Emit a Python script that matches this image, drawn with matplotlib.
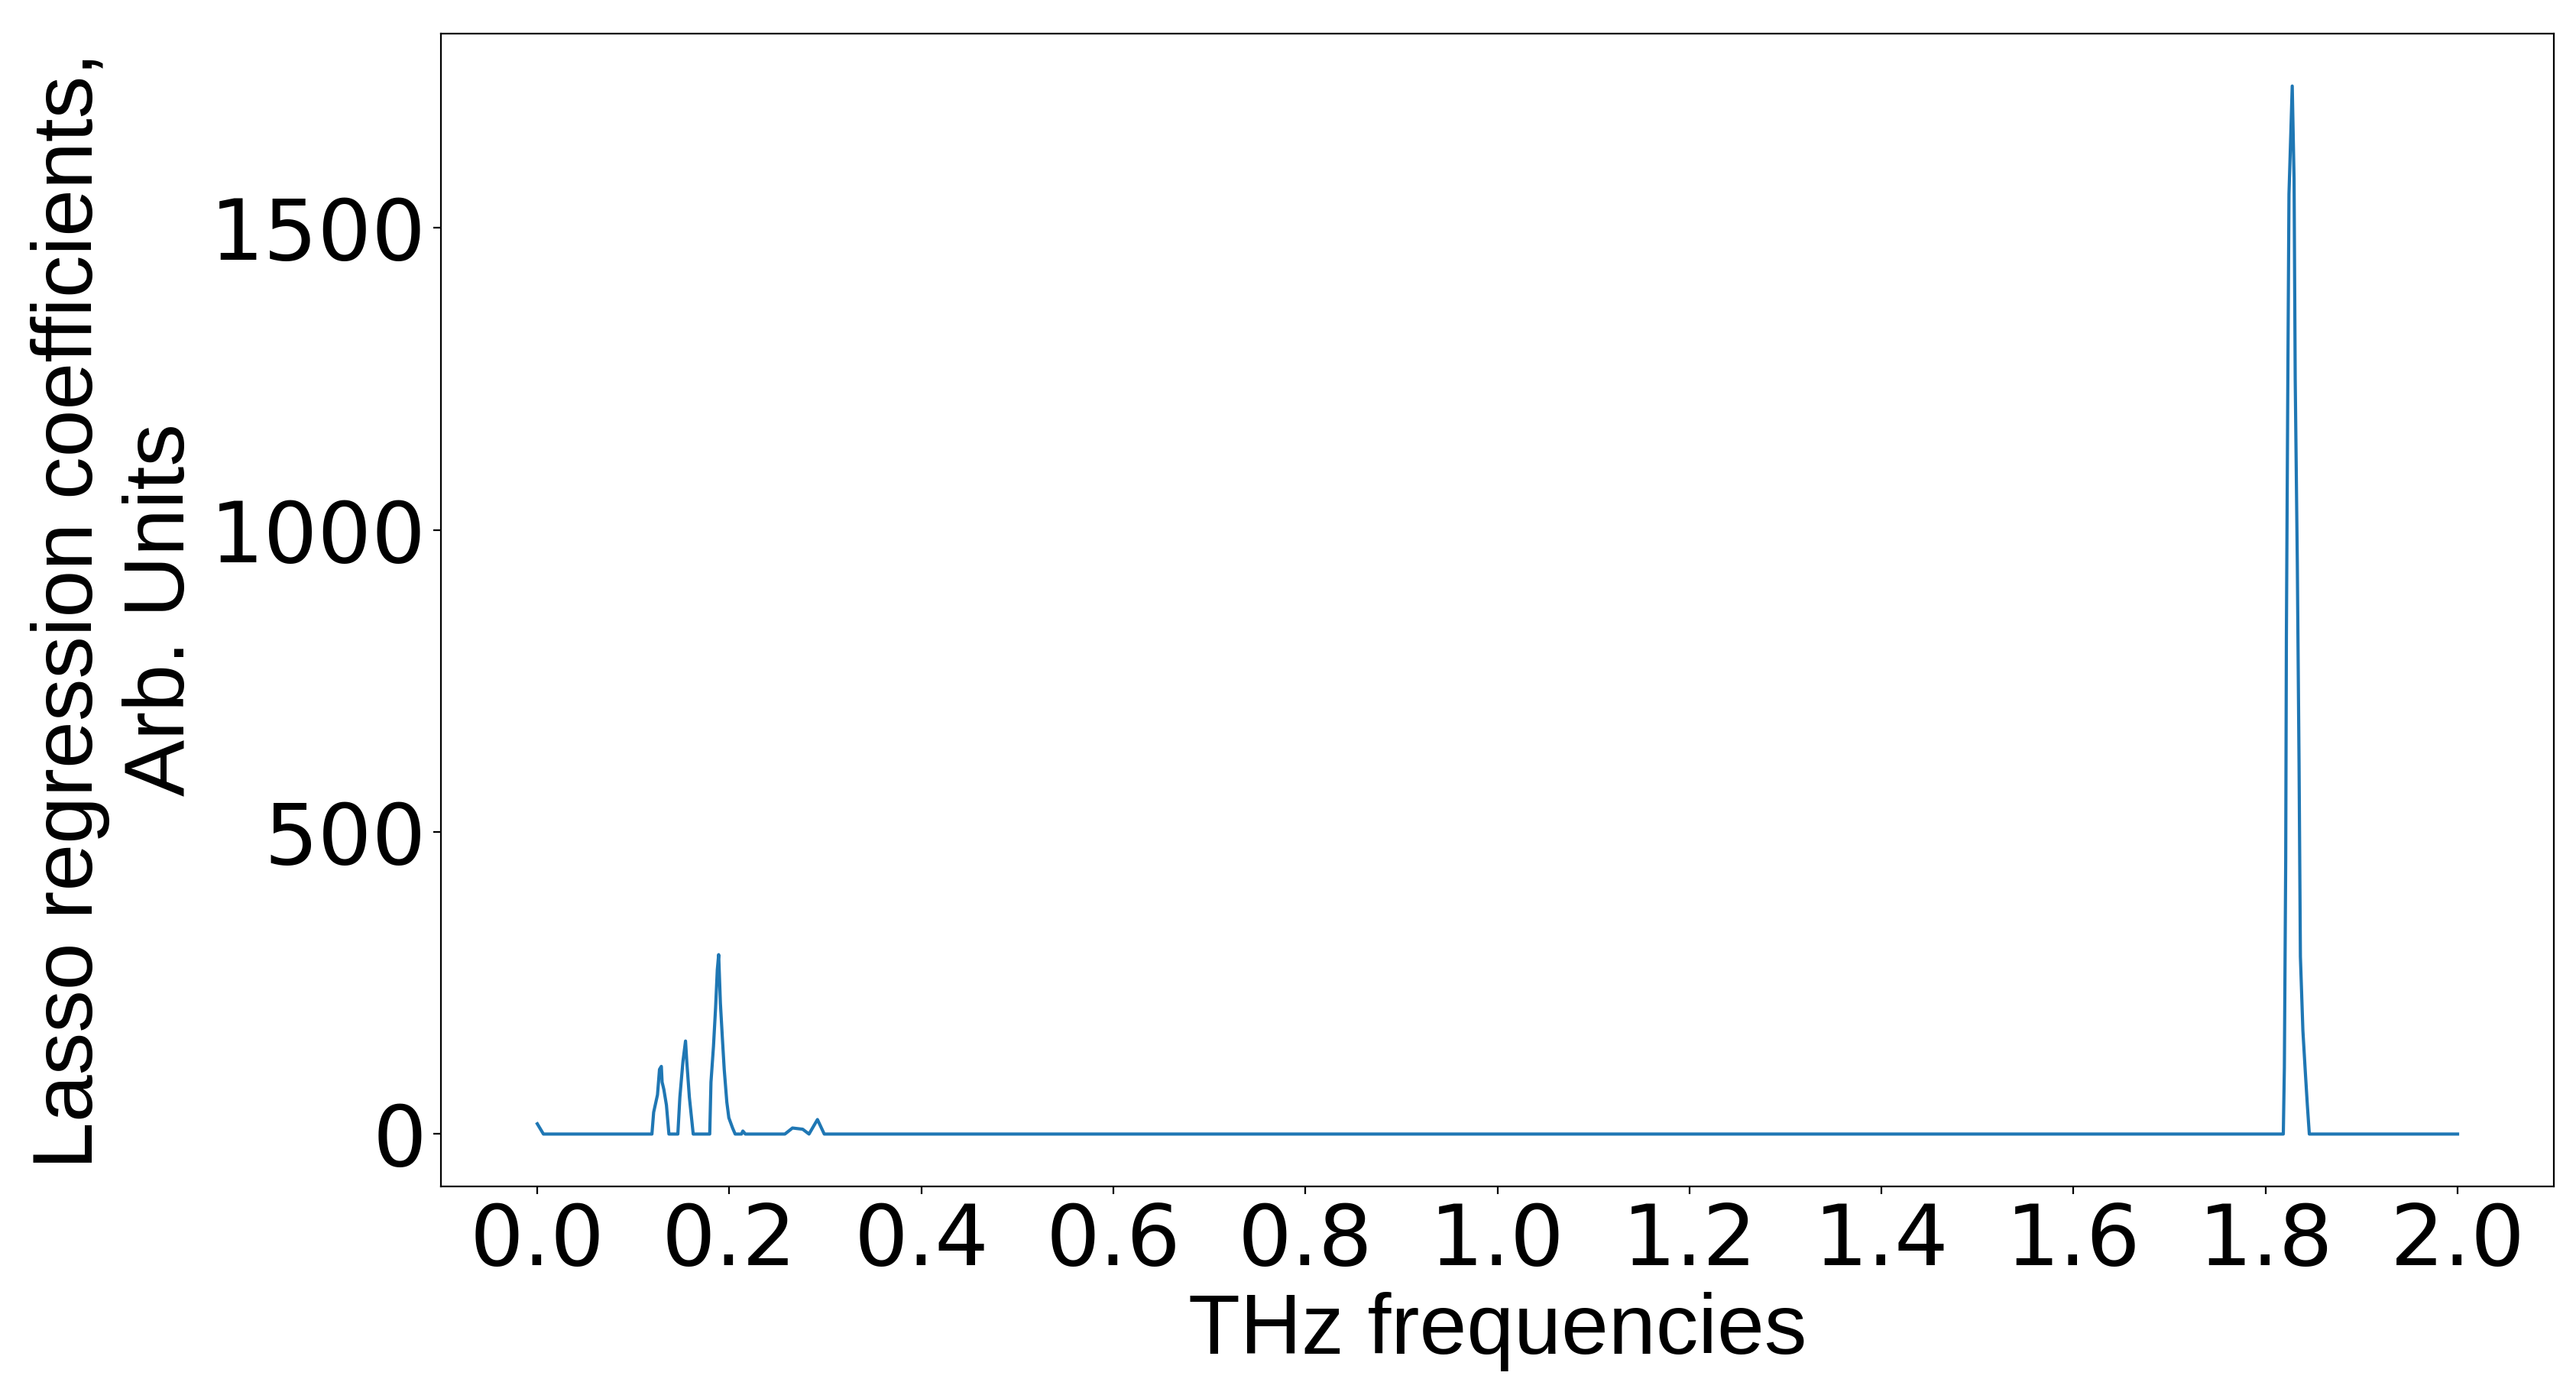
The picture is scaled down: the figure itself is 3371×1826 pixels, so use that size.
import matplotlib
matplotlib.use('Agg')
import matplotlib.pyplot as plt

# Lasso coefficients (freq in THz, coef in arb. units)
freq = [0.0, 0.0064, 0.1194, 0.1212, 0.1252, 0.1273, 0.1292, 0.1300, 0.1318,
        0.1345, 0.1371, 0.1464, 0.1485, 0.1517, 0.1544, 0.1557, 0.1584, 0.1624,
        0.1796, 0.1809, 0.1835, 0.1857, 0.1875, 0.1889, 0.1907, 0.1928, 0.1947,
        0.1974, 0.1995, 0.2034, 0.2061, 0.2127, 0.2141, 0.2167, 0.2579, 0.2658,
        0.2764, 0.2830, 0.2918, 0.2989,
        1.8185, 1.8196, 1.8210, 1.8217, 1.8230, 1.8244, 1.8278, 1.8297, 1.8309,
        1.8331, 1.8349, 1.8363, 1.8389, 1.8416, 1.8435, 1.8456, 2.0]
coef = [17, 0, 0, 36, 65, 107, 112, 86, 74,
        48, 0, 0, 61, 120, 154, 120, 61, 0,
        0, 86, 145, 209, 272, 297, 217, 158, 107,
        53, 27, 10, 0, 0, 5, 0, 0, 10,
        8, 0, 24, 0,
        0, 110, 453, 821, 1189, 1556, 1735, 1581, 1250,
        943, 613, 294, 171, 98, 49, 0, 0]

xticks = [0.0, 0.2, 0.4, 0.6, 0.8, 1.0, 1.2, 1.4, 1.6, 1.8, 2.0]
yticks = [0, 500, 1000, 1500]

LABEL_FONT = ['Liberation Sans', 'DejaVu Sans']

fig, ax = plt.subplots(figsize=(16.855, 9.13), dpi=200)
fig.subplots_adjust(left=0.1713, right=0.9913, bottom=0.1495, top=0.9759)

ax.plot(freq, coef, color='#1f77b4', linewidth=1.5)

ax.set_xticks(xticks)
ax.set_yticks(yticks)
ax.set_xlabel('THz frequencies', fontsize=40, family=LABEL_FONT)
ax.set_ylabel('Lasso regression coefficients,\nArb. Units', fontsize=40,
              family=LABEL_FONT)
ax.tick_params(labelsize=40)

fig.savefig('out.png', dpi=200)
plt.close(fig)
